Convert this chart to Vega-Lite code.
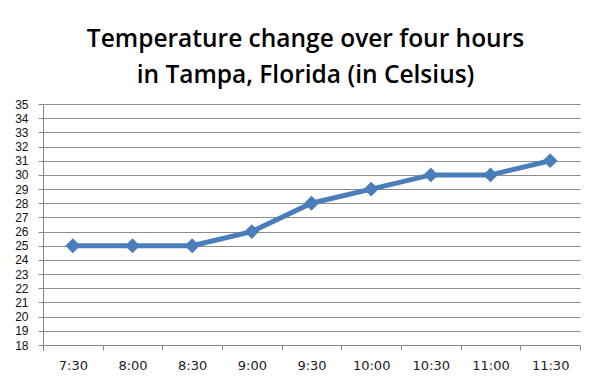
{
  "$schema": "https://vega.github.io/schema/vega-lite/v6.json",
  "autosize": {"type": "none"},
  "width": 537,
  "height": 241,
  "padding": {"left": 43, "top": 104, "right": 21, "bottom": 44},
  "background": "white",
  "title": {
    "text": ["Temperature change over four hours", "in Tampa, Florida (in Celsius)"],
    "font": "Open Sans",
    "fontSize": 24.5,
    "fontWeight": 600,
    "color": "#000000",
    "lineHeight": 36,
    "anchor": "middle",
    "baseline": "bottom",
    "offset": -14,
    "dx": -6
  },
  "data": {
    "values": [
      {"time": "7:30", "temp": 25},
      {"time": "8:00", "temp": 25},
      {"time": "8:30", "temp": 25},
      {"time": "9:00", "temp": 26},
      {"time": "9:30", "temp": 28},
      {"time": "10:00", "temp": 29},
      {"time": "10:30", "temp": 30},
      {"time": "11:00", "temp": 30},
      {"time": "11:30", "temp": 31}
    ]
  },
  "encoding": {
    "x": {
      "field": "time",
      "type": "ordinal",
      "sort": null,
      "scale": {"paddingInner": 0, "paddingOuter": 0},
      "axis": {
        "title": null,
        "labelAngle": 0,
        "labelFont": "DejaVu Sans",
        "labelFontSize": 13,
        "labelColor": "#222222",
        "labelPadding": 9,
        "tickBand": "extent",
        "tickSize": 5,
        "tickColor": "#868686",
        "domainColor": "#868686",
        "grid": false
      }
    },
    "y": {
      "field": "temp",
      "type": "quantitative",
      "scale": {"domain": [18, 35], "nice": false, "zero": false},
      "axis": {
        "title": null,
        "values": [18,19,20,21,22,23,24,25,26,27,28,29,30,31,32,33,34,35],
        "labelFont": "Liberation Sans",
        "labelFontSize": 12,
        "labelColor": "#111111",
        "labelPadding": 10,
        "labelOverlap": false,
        "labelBound": false,
        "labelFlush": false,
        "tickSize": 5,
        "tickColor": "#868686",
        "domainColor": "#868686",
        "gridColor": "#8c8c8c",
        "gridWidth": 1,
        "gridOpacity": 1
      }
    }
  },
  "layer": [
    {"mark": {"type": "line", "color": "#4a7ebb", "strokeWidth": 5}},
    {"mark": {"type": "point", "shape": "diamond", "filled": true, "color": "#4a7ebb", "size": 220, "opacity": 1}}
  ],
  "config": {"view": {"stroke": null}}
}
